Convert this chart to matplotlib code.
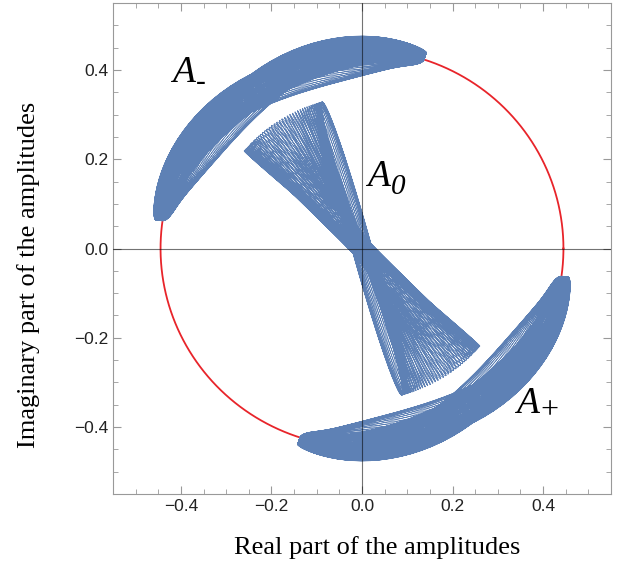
import numpy as np
import matplotlib.pyplot as plt
from matplotlib.ticker import MultipleLocator

# reference circle |A|
circle_r = 0.445
n_loops = 96           # fast oscillations in the run

# A0: fast swing through the origin, slowly turning between two tip angles
a0_len = 0.34
a0_tip_deg = [105, 140]
a0_ellip = [-0.02, 0.065]

# A- runs along the circle between two tips; A+ is the same figure turned by 180 deg
am_tip_deg = [172, 72]
am_radius = [0.425, 0.455]    # at the waist, at the tips
am_shift = [-0.035, 0.035]    # where the loops cross the waist
am_outer = [0.013, 0.019]     # outer half of each loop
am_inner = [0.0, 0.034]       # inner half of each loop
am_tilt_deg = [-16, 16]

labels = ["A", "A", "A"]
subs = ["-", "0", "+"]
sub_size = [21, 21, 23]
sub_dy = [0, 0, 2]
label_xy = [(-0.42, 0.374), (0.011, 0.141), (0.34, -0.368)]

blue = "#5e81b5"
red = "#e8242a"

t = np.linspace(0, 1, n_loops * 100)
x = 2 * np.pi * n_loops * t
T = 2 * np.pi * t

# A0
th = np.radians(np.mean(a0_tip_deg) + (a0_tip_deg[1] - a0_tip_deg[0]) / 2 * np.sin(T + 0.2))
eps = a0_ellip[0] + (a0_ellip[1] - a0_ellip[0]) * (0.5 + 0.5 * np.sin(3 * T))
z0 = a0_len * np.exp(1j * th) * (np.cos(x) + 1j * eps * np.sin(x))

# A-
phc = np.radians(np.mean(am_tip_deg))
phw = np.radians((am_tip_deg[0] - am_tip_deg[1]) / 2)
s = np.sin(x)
base = am_radius[0] + (am_radius[1] - am_radius[0]) * s ** 2
a = np.mean(am_shift) + (am_shift[1] - am_shift[0]) / 2 * np.sin(2 * T)
beta = np.radians(am_tilt_deg[1] * np.sin(3 * T + 0.7))
g = np.sin(2 * x + beta)
w_out = am_outer[0] + (am_outer[1] - am_outer[0]) * (0.5 + 0.5 * np.cos(T))
w_in = am_inner[0] + (am_inner[1] - am_inner[0]) * (0.5 + 0.5 * np.cos(T))
w = np.where(g > 0, w_out, w_in)
r = base + a * (1 - s ** 2) + w * g
zm = r * np.exp(1j * (phc + phw * s))
zp = -zm

fig = plt.figure(figsize=(6.23, 5.67), dpi=100)
ax = fig.add_axes([0.1814, 0.1287, 0.7993, 0.866])

ang = np.linspace(0, 2 * np.pi, 400)
ax.plot(circle_r * np.cos(ang), circle_r * np.sin(ang), color=red, lw=1.3, zorder=1)
for z in [z0, zm, zp]:
    ax.plot(z.real, z.imag, color=blue, lw=0.45, zorder=2)

ax.axhline(0, color="black", lw=0.8, alpha=0.55, zorder=5)
ax.axvline(0, color="black", lw=0.8, alpha=0.55, zorder=5)

ax.set_xlim(-0.55, 0.55)
ax.set_ylim(-0.55, 0.55)
ax.xaxis.set_major_locator(MultipleLocator(0.2))
ax.yaxis.set_major_locator(MultipleLocator(0.2))
ax.xaxis.set_minor_locator(MultipleLocator(0.05))
ax.yaxis.set_minor_locator(MultipleLocator(0.05))
ax.xaxis.set_major_formatter(lambda v, p: f"{v:.1f}".replace("-", "\u2212"))
ax.yaxis.set_major_formatter(lambda v, p: f"{v:.1f}".replace("-", "\u2212"))
ax.tick_params(which="both", direction="in", top=True, right=True, color="#999999",
               labelsize=12.5, labelcolor="#222222")
ax.tick_params(which="major", length=6, width=0.8)
ax.tick_params(which="minor", length=3.5, width=0.6)
for lab in ax.get_xticklabels() + ax.get_yticklabels():
    lab.set_family("Liberation Sans")
for sp in ax.spines.values():
    sp.set_color("#999999")
    sp.set_linewidth(0.8)

fig.text(0.605, 0.034, "Real part of the amplitudes", family="Liberation Serif",
         fontsize=19, ha="center", va="center")
fig.text(0.045, 0.515, "Imaginary part of the amplitudes", family="Liberation Serif",
         fontsize=19, ha="center", va="center", rotation=90)

for lab, sub, fs, dy, (lx, ly) in zip(labels, subs, sub_size, sub_dy, label_xy):
    tx = ax.text(lx, ly, lab, family="Liberation Serif", style="italic", fontsize=27,
                 ha="left", va="baseline", zorder=6)
    st = "italic" if sub == "0" else "normal"
    ax.annotate(sub, xy=(1, 0), xycoords=tx, xytext=(1, dy), textcoords="offset points",
                family="Liberation Serif", style=st, fontsize=fs, ha="left", va="baseline",
                zorder=6)

fig.savefig("out.png", dpi=100)
